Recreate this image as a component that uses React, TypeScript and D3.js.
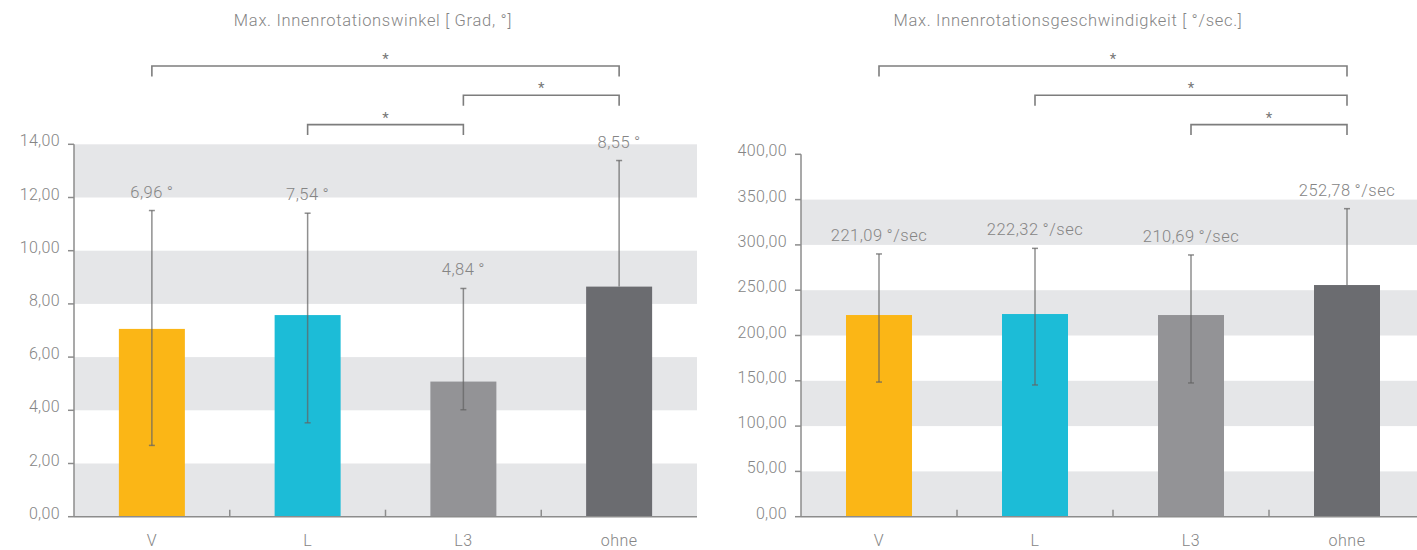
import * as d3 from 'd3';

const categories = ['V', 'L', 'L3', 'ohne'];
const barColors = ['#fbb616', '#1cbcd7', '#939396', '#6b6c70'];

// Max. Innenrotationswinkel
const angleBars = [7.06, 7.58, 5.08, 8.65];
const angleErrLow = [2.68, 3.53, 4.02, null];
const angleErrHigh = [11.51, 11.41, 8.58, 13.39];
const angleLabels = ['6,96\u2009°', '7,54\u2009°', '4,84\u2009°', '8,55\u2009°'];
const angleTicks = [0, 2, 4, 6, 8, 10, 12, 14];
const angleSig: [string, string][] = [['V', 'ohne'], ['L3', 'ohne'], ['L', 'L3']];

// Max. Innenrotationsgeschwindigkeit
const speedBars = [222.6, 223.7, 222.6, 255.7];
const speedErrLow = [148.6, 145.4, 147.6, null];
const speedErrHigh = [290.0, 296.2, 288.9, 340.0];
const speedLabels = ['221,09\u2009°/sec', '222,32\u2009°/sec', '210,69\u2009°/sec', '252,78\u2009°/sec'];
const speedTicks = [0, 50, 100, 150, 200, 250, 300, 350, 400];
const speedSig: [string, string][] = [['V', 'ohne'], ['L', 'ohne'], ['L3', 'ohne']];

const FONT = 'Roboto, "Open Sans", sans-serif';
const TEXT = '#858585';
const AXIS = '#8c8c8c';
const BAND = '#e5e6e8';

const de = d3.formatLocale({ decimal: ',', thousands: '.', grouping: [3], currency: ['', '€'] });
const fmt = de.format('.2f');

type ChartProps = {
    title: string;
    titleX: number;
    x0: number;
    x1: number;
    yTop: number;
    max: number;
    ticks: number[];
    bars: number[];
    errLow: (number | null)[];
    errHigh: number[];
    labels: string[];
    sig: [string, string][];
};

function Chart({ title, titleX, x0, x1, yTop, max, ticks, bars, errLow, errHigh, labels, sig }: ChartProps) {
    const bottom = 516.7;
    const x = d3.scaleBand<string>().domain(categories).range([x0, x1]).padding(0);
    const y = d3.scaleLinear().domain([0, max]).range([bottom, yTop]);
    const barW = 66;
    const cx = (c: string) => (x(c) ?? 0) + x.bandwidth() / 2;

    return (
        <g>
            <text x={titleX} y={26} textAnchor="middle" fontFamily={FONT} fontWeight={300} fontSize={16.5} letterSpacing={0.7} fill={TEXT}>
                {title}
            </text>

            {/* alternating bands */}
            {ticks.slice(0, -1).map((t, i) =>
                i % 2 === 0 ? (
                    <rect key={t} x={x0} y={y(ticks[i + 1])} width={x1 - x0} height={y(t) - y(ticks[i + 1])} fill={BAND} />
                ) : null
            )}

            {/* significance brackets */}
            {sig.map(([a, b], i) => {
                const ly = 66 + i * 29.3;
                return (
                    <g key={i}>
                        <path d={`M${cx(a)},${ly + 10.5}V${ly}H${cx(b)}V${ly + 10.5}`} fill="none" stroke="#7d7d7d" strokeWidth={1.6} />
                        <text x={(cx(a) + cx(b)) / 2} y={ly - 2} textAnchor="middle" fontFamily={FONT} fontSize={15} fill="#777">
                            *
                        </text>
                    </g>
                );
            })}

            {/* bars */}
            {categories.map((c, i) => (
                <rect key={c} x={cx(c) - barW / 2} y={y(bars[i])} width={barW} height={bottom - y(bars[i])} fill={barColors[i]} />
            ))}

            {/* error bars */}
            {categories.map((c, i) => {
                const lo = errLow[i] ?? bars[i];
                const xc = cx(c);
                return (
                    <g key={c} stroke="#646464" strokeOpacity={0.72} strokeWidth={1.5}>
                        <line x1={xc} x2={xc} y1={y(errHigh[i])} y2={y(lo)} />
                        <line x1={xc - 3} x2={xc + 3} y1={y(errHigh[i])} y2={y(errHigh[i])} />
                        {errLow[i] !== null && <line x1={xc - 3} x2={xc + 3} y1={y(lo)} y2={y(lo)} />}
                    </g>
                );
            })}

            {/* value labels */}
            {categories.map((c, i) => (
                <text key={c} x={cx(c)} y={y(errHigh[i]) - 13} textAnchor="middle" fontFamily={FONT} fontWeight={300} fontSize={16.5} letterSpacing={0.5} fill={TEXT}>
                    {labels[i]}
                </text>
            ))}

            {/* y axis */}
            <line x1={x0} x2={x0} y1={y(max)} y2={bottom} stroke={AXIS} strokeWidth={1.5} />
            {ticks.map((t) => (
                <g key={t}>
                    <line x1={x0 - 6} x2={x0} y1={y(t)} y2={y(t)} stroke={AXIS} strokeWidth={1.5} />
                    <text x={x0 - 14} y={y(t) + 2} textAnchor="end" fontFamily={FONT} fontWeight={300} fontSize={16} letterSpacing={0.35} fill={TEXT}>
                        {fmt(t)}
                    </text>
                </g>
            ))}

            {/* x axis */}
            <line x1={x0} x2={x1} y1={bottom} y2={bottom} stroke={AXIS} strokeWidth={1.5} />
            {categories.slice(1).map((c) => (
                <line key={c} x1={x(c)} x2={x(c)} y1={bottom - 7} y2={bottom} stroke={AXIS} strokeWidth={1.5} />
            ))}
            {categories.map((c) => (
                <text key={c} x={cx(c)} y={546} textAnchor="middle" fontFamily={FONT} fontWeight={300} fontSize={16} letterSpacing={0.5} fill={TEXT}>
                    {c}
                </text>
            ))}
        </g>
    );
}

export default function App() {
    return (
        <svg width={1417} height={550} style={{ position: 'absolute', left: 0, top: 0, background: '#fff' }}>
            <rect width={1417} height={550} fill="#fff" />
            <Chart
                title="Max. Innenrotationswinkel [ Grad, °]"
                titleX={373}
                x0={74}
                x1={697}
                yTop={144.3}
                max={14}
                ticks={angleTicks}
                bars={angleBars}
                errLow={angleErrLow}
                errHigh={angleErrHigh}
                labels={angleLabels}
                sig={angleSig}
            />
            <Chart
                title="Max. Innenrotationsgeschwindigkeit [ °/sec.]"
                titleX={1068}
                x0={801}
                x1={1425}
                yTop={154.3}
                max={400}
                ticks={speedTicks}
                bars={speedBars}
                errLow={speedErrLow}
                errHigh={speedErrHigh}
                labels={speedLabels}
                sig={speedSig}
            />
        </svg>
    );
}
